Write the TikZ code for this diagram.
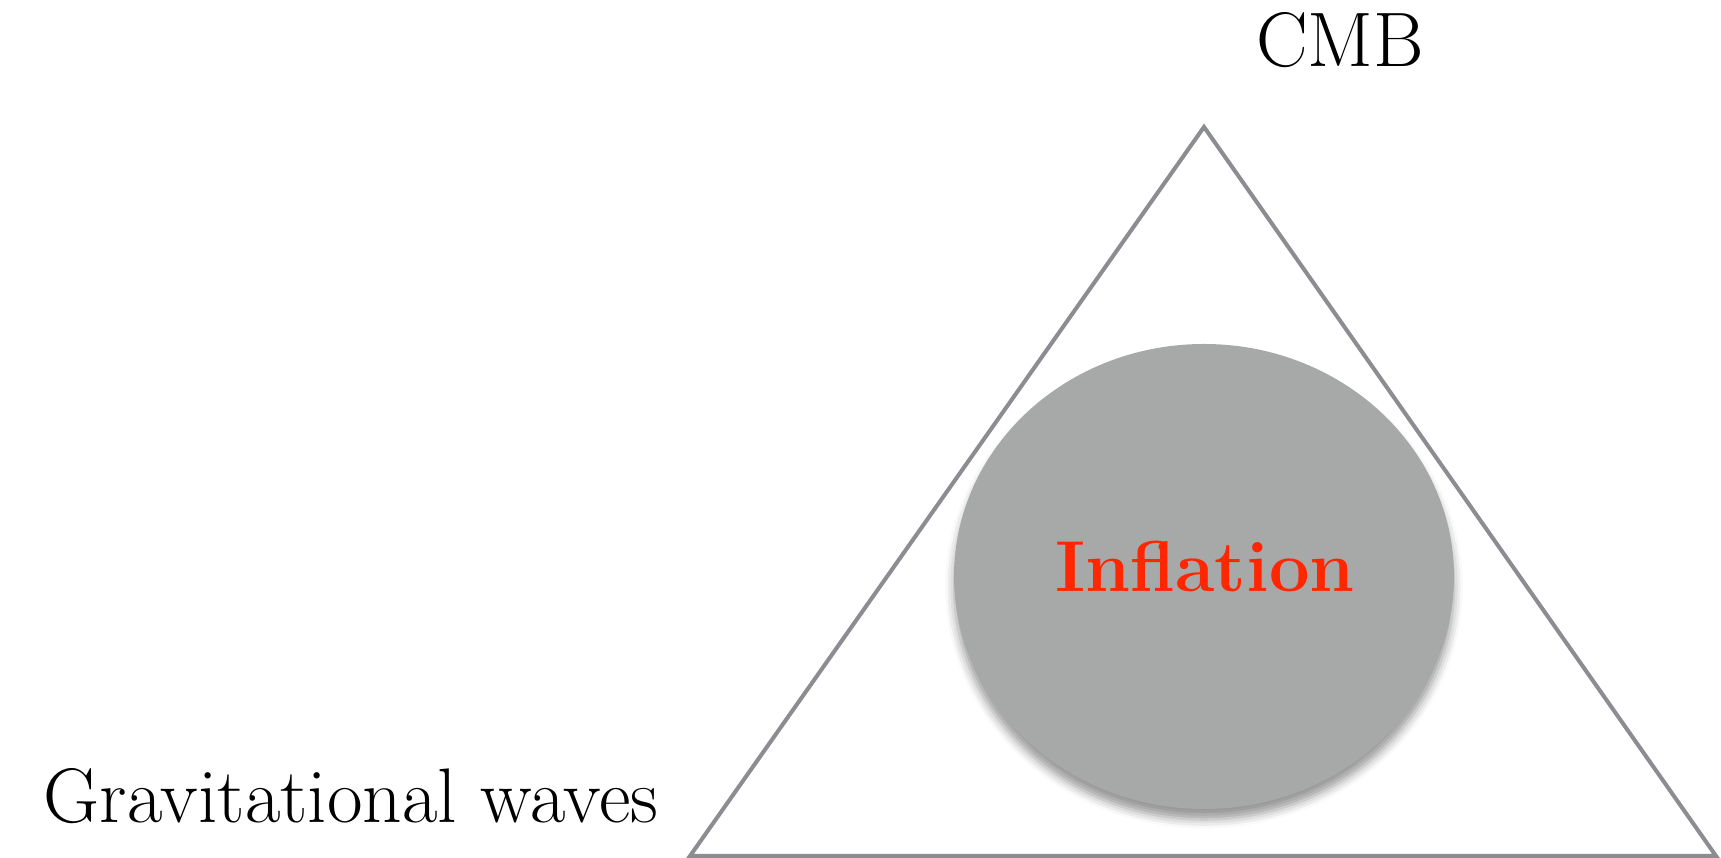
\documentclass[tikz,border=0pt]{standalone}
\usepackage{tikz}
\usetikzlibrary{shapes.geometric,shadows.blur,positioning}
\definecolor{edge}{HTML}{8B8D91}
\definecolor{bubblegray}{HTML}{A6A9A8}
\definecolor{hot}{HTML}{FF2600}

\begin{document}
\begin{tikzpicture}[
      probe/.style={font=\fontsize{22}{26}\selectfont, text=black, inner sep=0pt, anchor=base},
      bubble/.style={ellipse, fill=bubblegray, minimum width=5cm, minimum height=4.65cm,
                     inner sep=0pt,
                     blur shadow={shadow xshift=0pt, shadow yshift=-3pt, shadow blur radius=2.5pt, shadow opacity=40}},
      tri/.style={draw=edge, line width=1.15pt, line join=miter}
    ]
      \useasboundingbox (0,0) rectangle (17.21,8.58);
      % triangle corners
      \coordinate (top) at (12.04,7.31);
      \coordinate (bl)  at (6.90,0.02);
      \coordinate (br)  at (17.16,0.02);
      \draw[tri] (top) -- (bl) -- (br) -- cycle;
      \node[bubble] (core) at (12.04,2.815) {};
      \node[probe, text=hot, font=\fontsize{20.5}{25}\selectfont\bfseries] (infl) at (12.05,2.66) {Inflation};
      \node[probe] (cmb) at (13.40,7.91) {CMB};
      \node[probe] (gw)  at (3.51,0.35) {Gravitational waves};
    \end{tikzpicture}
\end{document}
